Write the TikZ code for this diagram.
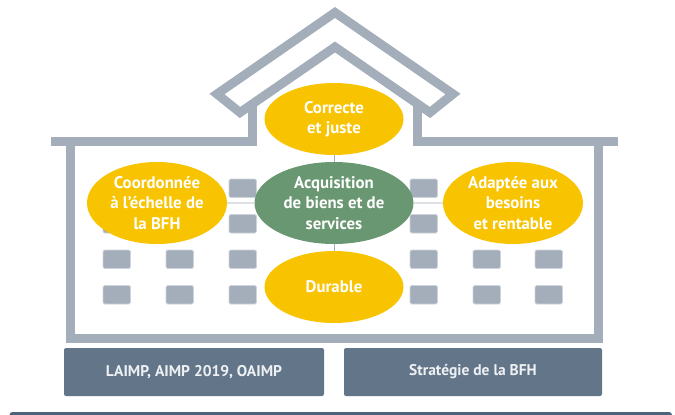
\documentclass[tikz,border=0pt]{standalone}
\usepackage{fontspec}
\setmainfont{PT Sans}
\usetikzlibrary{shapes.geometric}
\definecolor{housegray}{HTML}{A3AEBA}
\definecolor{winedge}{HTML}{CED4DB}
\definecolor{ellyellow}{HTML}{F8C300}
\definecolor{ellgreen}{HTML}{699771}
\definecolor{boxcol}{HTML}{637689}
\definecolor{barcol}{HTML}{4D6279}
\definecolor{hlink}{HTML}{DDE1E6}
\definecolor{boxtext}{HTML}{EEF1F4}
\tikzset{
  wall/.style={draw=housegray, line width=9pt, line join=miter},
  window/.style={fill=housegray, draw=winedge, line width=0.8pt, rounded corners=1.5pt},
  yell/.style={ellipse, fill=ellyellow, inner sep=0pt},
  greenell/.style={ellipse, fill=ellgreen, inner sep=0pt},
  txt/.style={text=white, align=center, font=\bfseries\fontsize{16.8}{20.5}\selectfont, inner sep=0pt},
  basebox/.style={rectangle, fill=boxcol, rounded corners=2pt, minimum height=48pt, text=boxtext, font=\bfseries\fontsize{15.5}{20.5}\selectfont},
  hconn/.style={draw=hlink, line width=2pt},
  vconn/.style={draw=housegray, line width=1pt}
}
\begin{document}
\begin{tikzpicture}[x=1pt,y=-1pt]
\useasboundingbox (0,0) rectangle (675,415);
% roof
\draw[wall] (217,94) -- (335,12.5) -- (453,94) -- (430,112.5) -- (335,47) -- (240,112.5) -- cycle;
% eaves and gable walls
\draw[wall] (51,141.5) -- (252.5,141.5) -- (252.5,104);
\draw[wall] (417.5,104) -- (417.5,141.5) -- (618,141.5);
% body walls
\draw[wall] (70.5,141.5) -- (70.5,338.5) -- (598.5,338.5) -- (598.5,141.5);
% windows
\foreach \x in {103,166,229,410,473,535}
  \foreach \y in {179,214.5,250,285.5}
    \draw[window] (\x,\y) rectangle ++(27.5,18.5);
% ellipses
\node[yell, minimum width=139pt, minimum height=72pt] (top) at (334,119) {};
\node[greenell, minimum width=159pt, minimum height=82pt] (center) at (334,203) {};
\node[yell, minimum width=140pt, minimum height=82pt] (left) at (157,203) {};
\node[yell, minimum width=140pt, minimum height=82pt] (right) at (513,203) {};
\node[yell, minimum width=139pt, minimum height=72pt] (bottom) at (334,287) {};
% connectors
\draw[hconn] (left) -- (center);
\draw[hconn] (center) -- (right);
\draw[vconn] (top) -- (center);
\draw[vconn] (center) -- (bottom);
% texts
\node[txt] (ttop) at (top) {Correcte\\et juste};
\node[txt] (tcenter) at (center) {Acquisition\\de biens et de\\services};
\node[txt] (tleft) at (left) {Coordonnée\\à l’échelle de\\la BFH};
\node[txt] (tright) at (right) {Adaptée aux\\besoins\\et rentable};
\node[txt] (tbottom) at (bottom) {Durable};
% base boxes
\node[basebox, minimum width=260pt] (laimp) at (194,372) {LAIMP, AIMP 2019, OAIMP};
\node[basebox, minimum width=258pt] (strat) at (473,372) {Stratégie de la BFH};
% bottom bar
\fill[barcol, rounded corners=3pt] (9.5,412) rectangle (672,432);
\end{tikzpicture}
\end{document}
